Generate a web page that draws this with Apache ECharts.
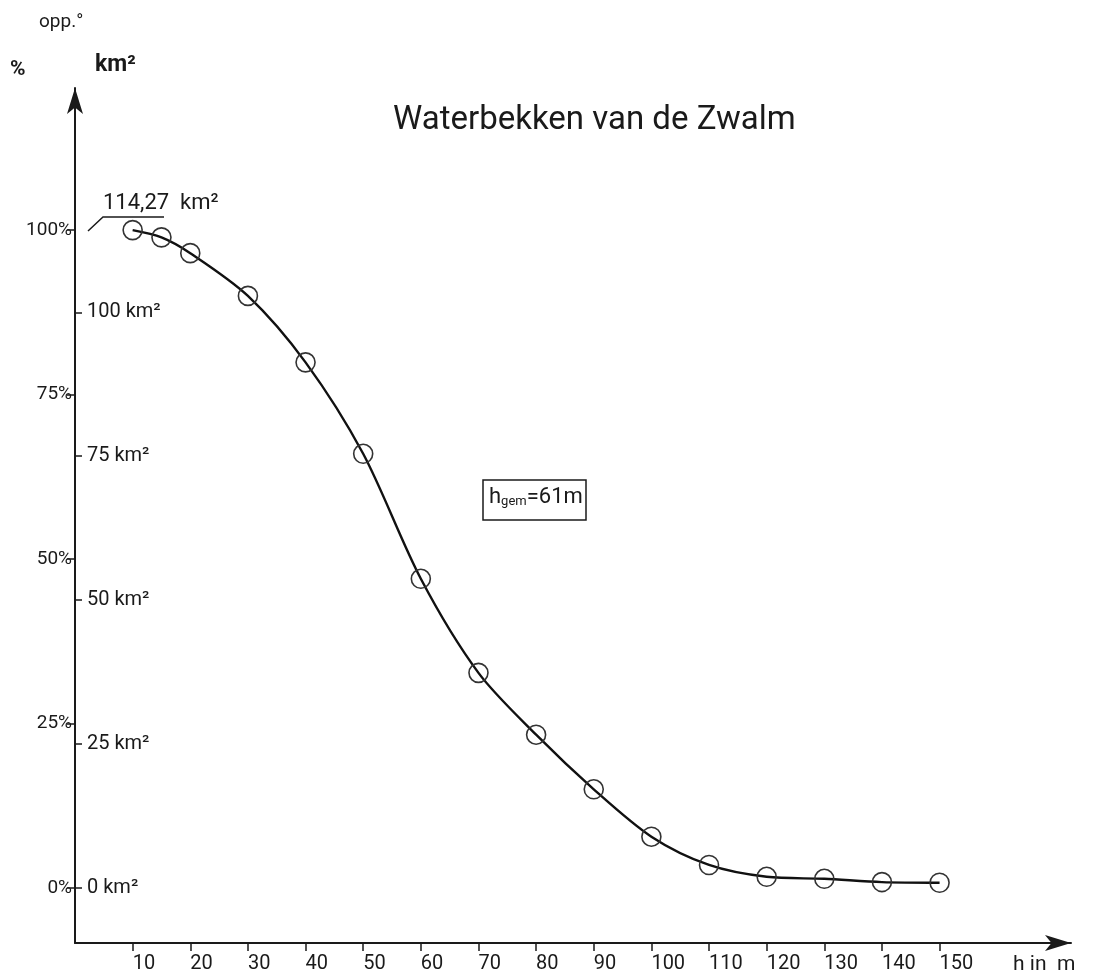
<!DOCTYPE html>
<html lang="nl">

<head>
    <meta charset="UTF-8">
    <title>Waterbekken van de Zwalm</title>
    <script src="https://cdn.jsdelivr.net/npm/echarts@6/dist/echarts.min.js"></script>
    <style>
        html, body { margin: 0; padding: 0; background: #fff; }
        #main { width: 1099px; height: 976px; }
    </style>
</head>

<body>
    <div id="main"></div>
    <script>
        // hoogte (m) en cumulatieve oppervlakte (% van het bekken)
        var heights = [10, 15, 20, 30, 40, 50, 60, 70, 80, 90, 100, 110, 120, 130, 140, 150];
        var areaPct = [100, 98.9, 96.5, 90.0, 79.9, 66.0, 47.0, 32.7, 23.3, 15.0, 7.8, 3.5, 1.7, 1.4, 0.9, 0.8];
        var totalArea = 114.27; // km2
        var meanHeight = 61; // m

        var xTicks = [10, 20, 30, 40, 50, 60, 70, 80, 90, 100, 110, 120, 130, 140, 150];
        var pctTicks = [0, 25, 50, 75, 100];
        var kmTicks = [0, 25, 50, 75, 100];

        var pctMin = -8.36, pctMax = 121.6;
        var font = 'Roboto';
        var ink = '#1a1a1a';

        var data = [];
        heights.forEach(function (h, i) {
            data.push([h, areaPct[i]]);
        });

        var myChart = echarts.init(document.getElementById('main'));

        var option = {
            backgroundColor: '#fff',
            animation: false,
            title: {
                text: 'Waterbekken van de Zwalm',
                left: 388,
                top: 99,
                textStyle: { fontFamily: font, fontSize: 33, fontWeight: 'normal', color: ink }
            },
            grid: {
                left: 75, right: 28, top: 88, bottom: 33,
                outerBoundsMode: 'none'
            },
            xAxis: {
                type: 'value',
                min: 0,
                max: 172.8,
                axisLine: {
                    onZero: false,
                    symbol: ['none', 'arrow'],
                    symbolSize: [12, 26],
                    lineStyle: { color: ink, width: 2 }
                },
                axisTick: { customValues: xTicks, length: 8, lineStyle: { color: ink, width: 1.5 } },
                axisLabel: {
                    customValues: xTicks,
                    align: 'left',
                    margin: 11,
                    fontFamily: font, fontSize: 20, color: ink
                },
                splitLine: { show: false }
            },
            yAxis: [
                {
                    type: 'value',
                    min: pctMin,
                    max: pctMax,
                    position: 'left',
                    axisLine: {
                        onZero: false,
                        symbol: ['none', 'arrow'],
                        symbolSize: [12, 26],
                        lineStyle: { color: ink, width: 2 }
                    },
                    axisTick: { customValues: pctTicks, length: 8, lineStyle: { color: ink, width: 1.5 } },
                    axisLabel: {
                        customValues: pctTicks,
                        margin: 3,
                        formatter: function (v) { return v + '%'; },
                        fontFamily: font, fontSize: 19, color: ink
                    },
                    splitLine: { show: false }
                },
                {
                    type: 'value',
                    min: pctMin * totalArea / 100,
                    max: pctMax * totalArea / 100,
                    position: 'left',
                    offset: 0,
                    axisLine: { show: false, onZero: false },
                    axisTick: { inside: true, customValues: kmTicks, length: 7, lineStyle: { color: ink, width: 1.5 } },
                    axisLabel: {
                        inside: true,
                        customValues: kmTicks,
                        margin: 12,
                        formatter: function (v) { return v + ' km²'; },
                        fontFamily: font, fontSize: 20, color: ink
                    },
                    splitLine: { show: false }
                }
            ],
            graphic: [
                { type: 'text', left: 39, top: 13, style: { text: 'opp.°', fontFamily: font, fontSize: 19, fill: ink } },
                { type: 'text', left: 10, top: 59, style: { text: '%', fontFamily: font, fontSize: 21, fontWeight: 'bold', fill: ink } },
                { type: 'text', left: 95, top: 54, style: { text: 'km²', fontFamily: font, fontSize: 23, fontWeight: 'bold', fill: ink } },
                { type: 'text', left: 1013, top: 954, style: { text: 'h in  m', fontFamily: font, fontSize: 21, fill: ink } },
                // total area annotation
                { type: 'text', left: 103, top: 192, style: { text: '114,27  km²', fontFamily: font, fontSize: 22, fill: ink } },
                {
                    type: 'polyline',
                    shape: { points: [[88, 231], [103, 217], [164, 217]] },
                    style: { stroke: ink, lineWidth: 1.5, fill: null }
                },
                // mean height box
                {
                    type: 'rect',
                    shape: { x: 483, y: 480, width: 103, height: 40 },
                    style: { stroke: ink, lineWidth: 1.5, fill: '#fff' }
                },
                {
                    type: 'text', left: 489, top: 486,
                    style: {
                        text: '{h|h}{s|gem}{h|=' + meanHeight + 'm}',
                        rich: {
                            h: { fontFamily: font, fontSize: 22, fill: ink },
                            s: { fontFamily: font, fontSize: 13, fill: ink, padding: [10, 0, 0, 0] }
                        }
                    }
                }
            ],
            series: [
                {
                    type: 'line',
                    data: data,
                    smooth: 0.3,
                    symbol: 'circle',
                    symbolSize: 19,
                    lineStyle: { color: '#111', width: 2.4 },
                    itemStyle: { color: 'rgba(0,0,0,0)', borderColor: '#333', borderWidth: 1.6 },
                    z: 3
                }
            ]
        };

        myChart.setOption(option);
    </script>
</body>

</html>
